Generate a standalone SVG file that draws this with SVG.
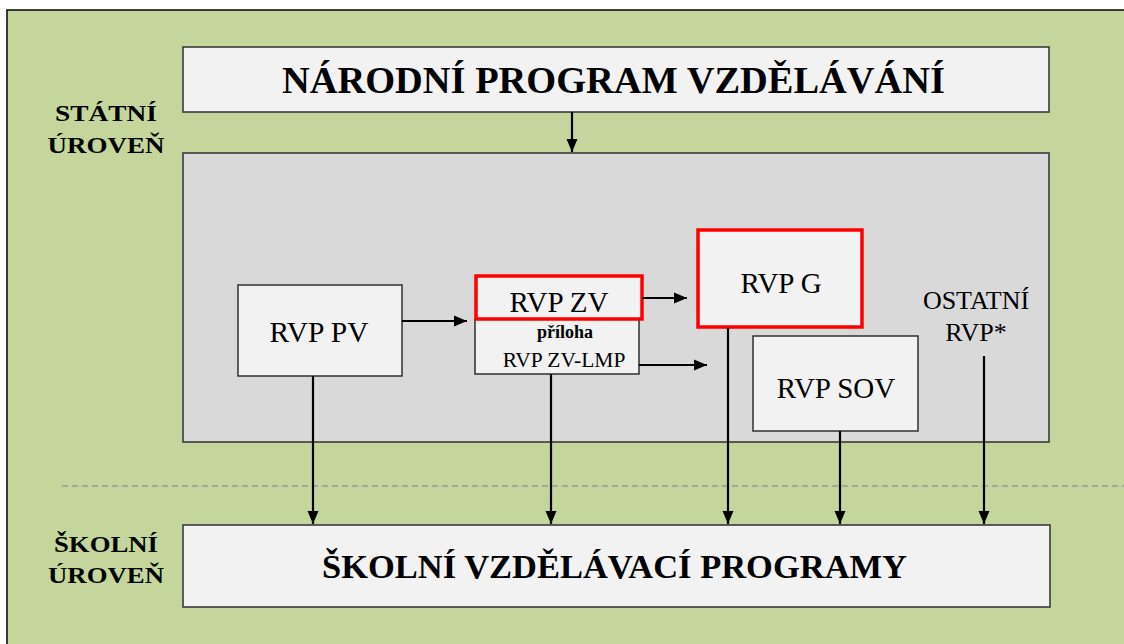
<svg xmlns="http://www.w3.org/2000/svg" width="1124" height="644" viewBox="0 0 1124 644">
<defs>
<marker id="ah" markerUnits="userSpaceOnUse" markerWidth="14" markerHeight="13" refX="13" refY="6.5" orient="auto">
<path d="M0,1 L13,6.5 L0,12 z" fill="#000"/>
</marker>
<style>
.box{fill:#F2F2F2;stroke:#3a3a3a;stroke-width:1.6}
.red{fill:#F2F2F2;stroke:#FF0000;stroke-width:3.5}
text{font-family:'Liberation Serif','Times New Roman','DejaVu Serif',serif;fill:#000;text-anchor:middle}
.b{font-weight:bold}
.c{stroke:#000;stroke-width:2.2;fill:none;marker-end:url(#ah)}
</style>
</defs>
<rect x="0" y="0" width="1124" height="644" fill="#ffffff"/>
<rect x="7" y="10" width="1130" height="650" fill="#C4D69C" stroke="#111" stroke-width="1.6"/>
<line x1="62" y1="486" x2="1124" y2="486" stroke="#999" stroke-width="1.3" stroke-dasharray="6,4"/>
<g id="label-statni">
<text class="b" x="106" y="121" font-size="24" textLength="102" lengthAdjust="spacingAndGlyphs">STÁTNÍ</text>
<text class="b" x="106" y="153" font-size="24" textLength="117" lengthAdjust="spacingAndGlyphs">ÚROVEŇ</text>
</g>
<g id="label-skolni">
<text class="b" x="106" y="552" font-size="24" textLength="104" lengthAdjust="spacingAndGlyphs">ŠKOLNÍ</text>
<text class="b" x="106" y="583" font-size="24" textLength="116" lengthAdjust="spacingAndGlyphs">ÚROVEŇ</text>
</g>
<g id="npv">
<rect class="box" x="183" y="47" width="866" height="65"/>
<text class="b" x="613.5" y="93" font-size="38.5" textLength="663" lengthAdjust="spacingAndGlyphs">NÁRODNÍ PROGRAM VZDĚLÁVÁNÍ</text>
</g>
<g id="rvp-area">
<rect x="183" y="153" width="866" height="289" fill="#D9D9D9" stroke="#3a3a3a" stroke-width="1.6"/>
</g>
<g id="rvp-pv">
<rect class="box" x="238" y="285" width="164" height="91"/>
<text x="319" y="342" font-size="29.5">RVP PV</text>
</g>
<g id="rvp-zv-lmp">
<rect class="box" x="475" y="319" width="164" height="55"/>
<text class="b" x="565" y="338" font-size="18">příloha</text>
<text x="564" y="367" font-size="21.5">RVP ZV-LMP</text>
</g>
<g id="rvp-zv">
<rect class="red" x="476" y="276" width="166" height="43"/>
<text x="559" y="312" font-size="29">RVP ZV</text>
</g>
<g id="rvp-g">
<rect class="red" x="698" y="230" width="164" height="97"/>
<text x="781" y="293" font-size="29">RVP G</text>
</g>
<g id="rvp-sov">
<rect class="box" x="753" y="336" width="165" height="95"/>
<text x="836" y="398" font-size="29">RVP SOV</text>
</g>
<g id="ostatni">
<text x="976" y="309" font-size="26">OSTATNÍ</text>
<text x="976" y="341" font-size="26">RVP*</text>
</g>
<g id="svp">
<rect class="box" x="183" y="525" width="867" height="82"/>
<text class="b" x="614.5" y="578" font-size="34.5" textLength="585" lengthAdjust="spacingAndGlyphs">ŠKOLNÍ VZDĚLÁVACÍ  PROGRAMY</text>
</g>
<g id="connectors">
<line class="c" x1="572" y1="112" x2="572" y2="152"/>
<line class="c" x1="402" y1="321" x2="467" y2="321"/>
<line class="c" x1="642" y1="298" x2="687" y2="298"/>
<line class="c" x1="639" y1="365" x2="707" y2="365"/>
<line class="c" x1="313" y1="376" x2="313" y2="524"/>
<line class="c" x1="551" y1="374" x2="551" y2="524"/>
<line class="c" x1="728" y1="328" x2="728" y2="524"/>
<line class="c" x1="840" y1="431" x2="840" y2="524"/>
<line class="c" x1="984" y1="356" x2="984" y2="524"/>
</g>
</svg>
